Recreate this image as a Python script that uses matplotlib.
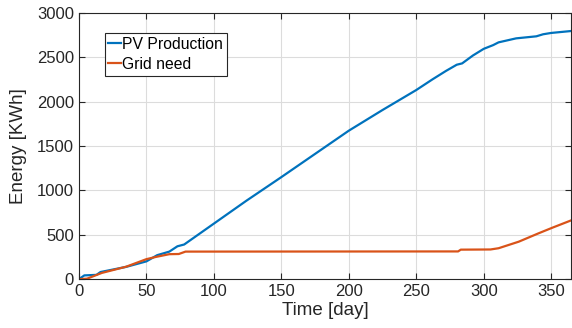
import matplotlib
matplotlib.use('Agg')
import matplotlib.pyplot as plt

plt.rcParams['font.family'] = ['Liberation Sans', 'DejaVu Sans']

# PV production (cumulative energy, kWh)
pv_days = [0, 4, 13, 16, 35, 50, 58, 67, 73, 78, 124, 150, 200, 225, 250, 262,
           272, 280, 284, 292, 300, 307, 311, 324, 339, 344, 350, 365]
pv_energy = [0, 42, 48, 80, 138, 200, 270, 310, 370, 390, 882, 1149, 1672, 1905,
             2130, 2250, 2345, 2415, 2430, 2519, 2594, 2636, 2667, 2712, 2735,
             2758, 2773, 2795]

# Grid need (cumulative energy, kWh)
grid_days = [0, 6, 17, 35, 50, 57, 67, 74, 79, 281, 283, 305, 311, 326, 340, 345,
             351, 365]
grid_energy = [0, 5, 70, 140, 225, 250, 281, 283, 310, 312, 332, 334, 348, 422,
               512, 543, 580, 663]

fig = plt.figure(figsize=(5.72, 3.28), dpi=100)
ax = fig.add_axes([0.138, 0.149, 0.861, 0.812])

ax.plot(pv_days, pv_energy, color='#0072BD', lw=1.6, label='PV Production')
ax.plot(grid_days, grid_energy, color='#D95319', lw=1.6, label='Grid need')

ax.set_xlim(0, 365)
ax.set_ylim(0, 3000)
ax.set_xticks([0, 50, 100, 150, 200, 250, 300, 350])
ax.set_yticks([0, 500, 1000, 1500, 2000, 2500, 3000])
ax.grid(True, color='#dcdcdc', lw=0.8)
ax.set_axisbelow(True)
ax.tick_params(direction='in', top=True, right=True, labelsize=12,
               colors='#262626', length=4, width=0.8)
for s in ax.spines.values():
    s.set_color('#262626')
    s.set_linewidth(0.8)

ax.set_xlabel('Time [day]', fontsize=13.5, color='#262626', labelpad=2)
ax.set_ylabel('Energy [KWh]', fontsize=13.5, color='#262626', labelpad=7)

leg = ax.legend(loc='upper left', bbox_to_anchor=(0.052, 0.925), fontsize=11.3,
                handlelength=0.8, handletextpad=0.05, borderpad=0.25,
                borderaxespad=0, labelspacing=0.32, fancybox=False,
                framealpha=1, edgecolor='#262626')
leg.get_frame().set_linewidth(0.8)
leg._legend_box.sep = 2

fig.savefig('out.png', dpi=100)
